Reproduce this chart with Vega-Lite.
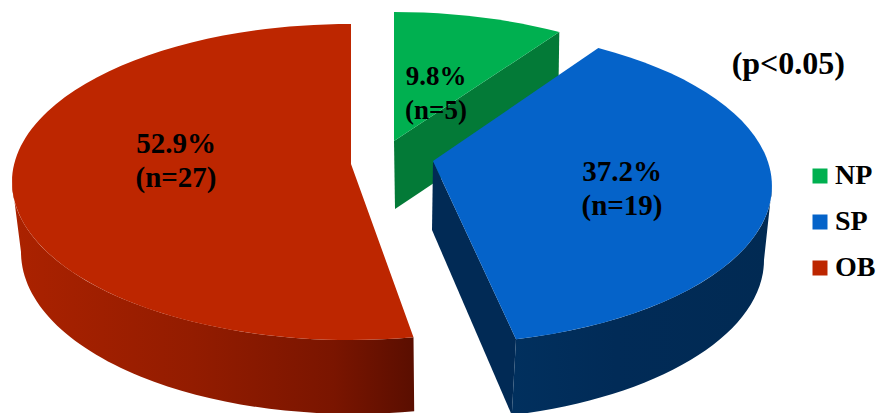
{
  "$schema": "https://vega.github.io/schema/vega-lite/v6.json",
  "width": 878,
  "height": 413,
  "padding": 0,
  "autosize": {"type": "none"},
  "background": "white",
  "title": {
    "text": "(p<0.05)",
    "frame": "group",
    "anchor": "end",
    "orient": "top",
    "offset": -81,
    "dx": -33,
    "font": "Liberation Serif",
    "fontWeight": "bold",
    "fontSize": 32,
    "color": "#000000"
  },
  "data": {
    "values": [
      {"slice": "NP", "pct": 9.8, "n": 5},
      {"slice": "SP", "pct": 37.2, "n": 19},
      {"slice": "OB", "pct": 52.9, "n": 27}
    ]
  },
  "transform": [
    {"window": [{"op": "sum", "field": "pct", "as": "cum"}]},
    {"calculate": "(datum.cum - datum.pct) / 99.9 * 360", "as": "c0"},
    {"calculate": "datum.cum / 99.9 * 360", "as": "c1"},
    {"calculate": "datum.slice === 'OB' ? datum.c0 : 0.99 * datum.c0 - 10 * sin(datum.c0 * PI / 180)", "as": "t0"},
    {"calculate": "datum.slice === 'OB' ? datum.c1 : 0.99 * datum.c1 - 10 * sin(datum.c1 * PI / 180)", "as": "t1"},
    {"calculate": "datum.t0 * PI / 180", "as": "r0"},
    {"calculate": "datum.t1 * PI / 180", "as": "r1"},
    {"calculate": "round(3390 * sin(datum.r0)) / 10", "as": "px0"},
    {"calculate": "round(-1580 * cos(datum.r0)) / 10", "as": "py0"},
    {"calculate": "round(3390 * sin(datum.r1)) / 10", "as": "px1"},
    {"calculate": "round(-1580 * cos(datum.r1)) / 10", "as": "py1"},
    {"calculate": "datum.slice === 'NP' ? -29 : datum.slice === 'SP' ? -25 : -18", "as": "apex"},
    {"calculate": "'M0,' + datum.apex + 'L' + datum.px0 + ',' + datum.py0 + 'A339,158,0,' + (datum.t1 - datum.t0 > 180 ? 1 : 0) + ',1,' + datum.px1 + ',' + datum.py1 + 'Z'", "as": "topFace"}
  ],
  "layer": [
    {
      "encoding": {
        "x": {"field": "pct", "type": "quantitative", "axis": null, "scale": {"domain": [9.8, 37.2, 52.9], "range": [394, 433, 351]}},
        "y": {"field": "pct", "type": "quantitative", "axis": null, "scale": {"domain": [9.8, 37.2, 52.9], "range": [170, 186, 182]}},
        "size": {"value": 4}
      },
      "layer": [
        {
          "transform": [
            {"filter": "datum.slice === 'NP'"},
            {"calculate": "'M0,' + datum.apex + 'L' + datum.px1 + ',' + datum.py1 + 'L' + (datum.px1 - 1) + ',' + (datum.py1 + 68) + 'L1,' + (datum.apex + 68) + 'Z'", "as": "cut"}
          ],
          "mark": {"type": "point", "filled": true, "opacity": 1, "fill": "#037a37"},
          "encoding": {"shape": {"field": "cut", "type": "nominal", "scale": null}}
        },
        {
          "transform": [
            {"filter": "datum.slice === 'OB'"},
            {"calculate": "'M-339,0A339,158,0,0,0,' + datum.px0 + ',' + datum.py0 + 'L' + round(20 + 3320 * sin(datum.r0)) / 10 + ',' + round(700 - 1620 * cos(datum.r0)) / 10 + 'A332,162,0,0,1,-330,70Z'", "as": "wall"}
          ],
          "mark": {
            "type": "point",
            "filled": true,
            "opacity": 1,
            "fill": {
              "gradient": "linear",
              "x1": 0,
              "x2": 1,
              "y1": 0,
              "y2": 0,
              "stops": [
                {"offset": 0, "color": "#ab2200"},
                {"offset": 0.45, "color": "#931c00"},
                {"offset": 0.8, "color": "#7a1500"},
                {"offset": 1, "color": "#5a0e00"}
              ]
            }
          },
          "encoding": {"shape": {"field": "wall", "type": "nominal", "scale": null}}
        },
        {
          "transform": [
            {"filter": "datum.slice === 'SP'"},
            {"calculate": "'M0,' + datum.apex + 'L' + datum.px1 + ',' + datum.py1 + 'L' + round(-30 + 3340 * sin(datum.r1)) / 10 + ',' + round(740 - 1600 * cos(datum.r1)) / 10 + 'L-1,' + (datum.apex + 69) + 'Z'", "as": "cut"}
          ],
          "mark": {"type": "point", "filled": true, "opacity": 1, "fill": "#012a55"},
          "encoding": {"shape": {"field": "cut", "type": "nominal", "scale": null}}
        },
        {
          "transform": [
            {"filter": "datum.slice === 'SP'"},
            {"calculate": "'M339,0A339,158,0,0,1,' + datum.px1 + ',' + datum.py1 + 'L' + round(-30 + 3340 * sin(datum.r1)) / 10 + ',' + round(740 - 1600 * cos(datum.r1)) / 10 + 'A334,160,0,0,0,331,74Z'", "as": "wall"}
          ],
          "mark": {
            "type": "point",
            "filled": true,
            "opacity": 1,
            "fill": {
              "gradient": "linear",
              "x1": 0,
              "x2": 1,
              "y1": 0,
              "y2": 0,
              "stops": [
                {"offset": 0, "color": "#01305e"},
                {"offset": 0.4, "color": "#012b57"},
                {"offset": 1, "color": "#012a53"}
              ]
            }
          },
          "encoding": {"shape": {"field": "wall", "type": "nominal", "scale": null}}
        },
        {
          "mark": {"type": "point", "filled": true, "opacity": 1},
          "encoding": {
            "shape": {"field": "topFace", "type": "nominal", "scale": null},
            "color": {
              "field": "slice",
              "type": "nominal",
              "scale": {"domain": ["NP", "SP", "OB"], "range": ["#00b050", "#0563c9", "#bd2600"]},
              "legend": {
                "orient": "none",
                "legendX": 806,
                "legendY": 162,
                "title": null,
                "padding": 0,
                "symbolType": "square",
                "symbolSize": 225,
                "symbolStrokeWidth": 0,
                "symbolOpacity": 1,
                "labelFont": "Liberation Serif",
                "labelFontWeight": "bold",
                "labelFontSize": 28,
                "labelColor": "#000000",
                "labelOffset": 1,
                "rowPadding": 18
              }
            }
          }
        }
      ]
    },
    {
      "transform": [
        {"calculate": "format(datum.pct, '.1f') + '%\\n(n=' + datum.n + ')'", "as": "caption"}
      ],
      "mark": {
        "type": "text",
        "font": "Liberation Serif",
        "fontWeight": "bold",
        "lineBreak": "\n",
        "lineHeight": 34,
        "align": "center",
        "baseline": "middle",
        "color": "#000000"
      },
      "encoding": {
        "x": {"field": "pct", "type": "quantitative", "axis": null, "scale": {"domain": [9.8, 37.2, 52.9], "range": [436, 622, 176]}},
        "y": {"field": "pct", "type": "quantitative", "axis": null, "scale": {"domain": [9.8, 37.2, 52.9], "range": [77, 172, 144]}},
        "text": {"field": "caption", "type": "nominal"},
        "size": {"condition": {"test": "datum.slice === 'NP'", "value": 27}, "value": 29}
      }
    }
  ],
  "resolve": {"scale": {"x": "independent", "y": "independent"}},
  "config": {"view": {"stroke": null}}
}
